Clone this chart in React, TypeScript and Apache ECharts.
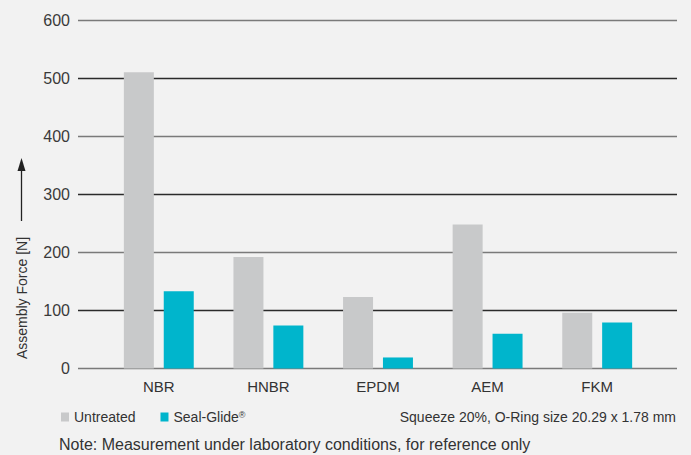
import React, { useEffect, useRef } from "react";
import * as echarts from "echarts";

const categories = ["NBR", "HNBR", "EPDM", "AEM", "FKM"];
const untreated = [510, 192, 123, 248, 96];
const sealGlide = [133, 74, 19, 60, 79];
const yTicks = { min: 0, max: 600, interval: 100 };
const seriesNames = ["Untreated", "Seal-Glide®"];
const axisName = "Assembly Force [N]";
const conditionText = "Squeeze 20%, O-Ring size 20.29 x 1.78 mm";
const noteText = "Note: Measurement under laboratory conditions, for reference only";

const FONT = "'Liberation Sans', Arial, sans-serif";
const TEXT = "#333333";

export default function App() {
  const ref = useRef<HTMLDivElement>(null);
  useEffect(() => {
    if (!ref.current) return;
    const chart = echarts.init(ref.current, undefined, { renderer: "svg" });
    chart.setOption({
      animation: false,
      backgroundColor: "#f2f2f2",
      textStyle: { fontFamily: FONT },
      grid: [
        { left: 78, right: 14, top: 20, bottom: 86.5 },
        { left: 104, right: 39, top: 20, bottom: 86.5 },
      ],
      xAxis: [
        { gridIndex: 0, type: "value", min: 0, max: 1, show: false },
        {
          gridIndex: 1,
          type: "category",
          data: categories,
          axisLine: { show: false },
          axisTick: { show: false },
          axisLabel: { color: TEXT, fontSize: 15, margin: 10, fontFamily: FONT },
        },
      ],
      yAxis: [
        {
          gridIndex: 0,
          type: "value",
          min: yTicks.min,
          max: yTicks.max,
          interval: yTicks.interval,
          axisLine: { show: false },
          axisTick: { show: false },
          axisLabel: { color: "#3a3a3a", fontSize: 16, margin: 8, fontFamily: FONT },
          splitLine: { lineStyle: { color: ["#7a7a7a", "#2b2b2b"], width: 1.3 } },
        },
        {
          gridIndex: 1,
          type: "value",
          min: yTicks.min,
          max: yTicks.max,
          interval: yTicks.interval,
          show: false,
        },
      ],
      legend: {
        left: 61,
        top: 410,
        icon: "rect",
        itemWidth: 8,
        itemHeight: 9,
        itemGap: 25,
        padding: 0,
        formatter: (name: string) =>
          name.endsWith("®") ? `${name.slice(0, -1)}{sup|®}` : name,
        textStyle: {
          color: TEXT,
          fontSize: 14,
          lineHeight: 14,
          fontFamily: FONT,
          rich: {
            sup: { fontSize: 9, lineHeight: 14, verticalAlign: "top", color: TEXT },
          },
        },
        data: seriesNames,
      },
      series: [
        {
          name: seriesNames[0],
          type: "bar",
          xAxisIndex: 1,
          yAxisIndex: 1,
          data: untreated,
          barWidth: 30,
          barGap: "33%",
          itemStyle: { color: "#c8c9ca" },
        },
        {
          name: seriesNames[1],
          type: "bar",
          xAxisIndex: 1,
          yAxisIndex: 1,
          data: sealGlide,
          barWidth: 30,
          barGap: "33%",
          itemStyle: { color: "#00b5cc" },
        },
      ],
      graphic: [
        {
          type: "text",
          x: 22,
          y: 298,
          rotation: Math.PI / 2,
          style: {
            text: axisName,
            fill: TEXT,
            font: `14px ${FONT}`,
            textAlign: "center",
            textVerticalAlign: "middle",
          },
        },
        {
          type: "line",
          shape: { x1: 21.5, y1: 221, x2: 21.5, y2: 168 },
          style: { stroke: "#222", lineWidth: 1.3 },
        },
        {
          type: "polygon",
          shape: { points: [[21.5, 158], [17.5, 171], [25.5, 171]] },
          style: { fill: "#222" },
        },
        {
          type: "text",
          x: 676,
          y: 417,
          style: {
            text: conditionText,
            fill: TEXT,
            font: `14px ${FONT}`,
            textAlign: "right",
            textVerticalAlign: "middle",
          },
        },
        {
          type: "text",
          x: 59,
          y: 444,
          style: {
            text: noteText,
            fill: TEXT,
            font: `16px ${FONT}`,
            textAlign: "left",
            textVerticalAlign: "middle",
          },
        },
      ],
    });
    return () => chart.dispose();
  }, []);
  return (
    <div
      ref={ref}
      style={{ position: "fixed", left: 0, top: 0, width: 691, height: 455 }}
    />
  );
}
